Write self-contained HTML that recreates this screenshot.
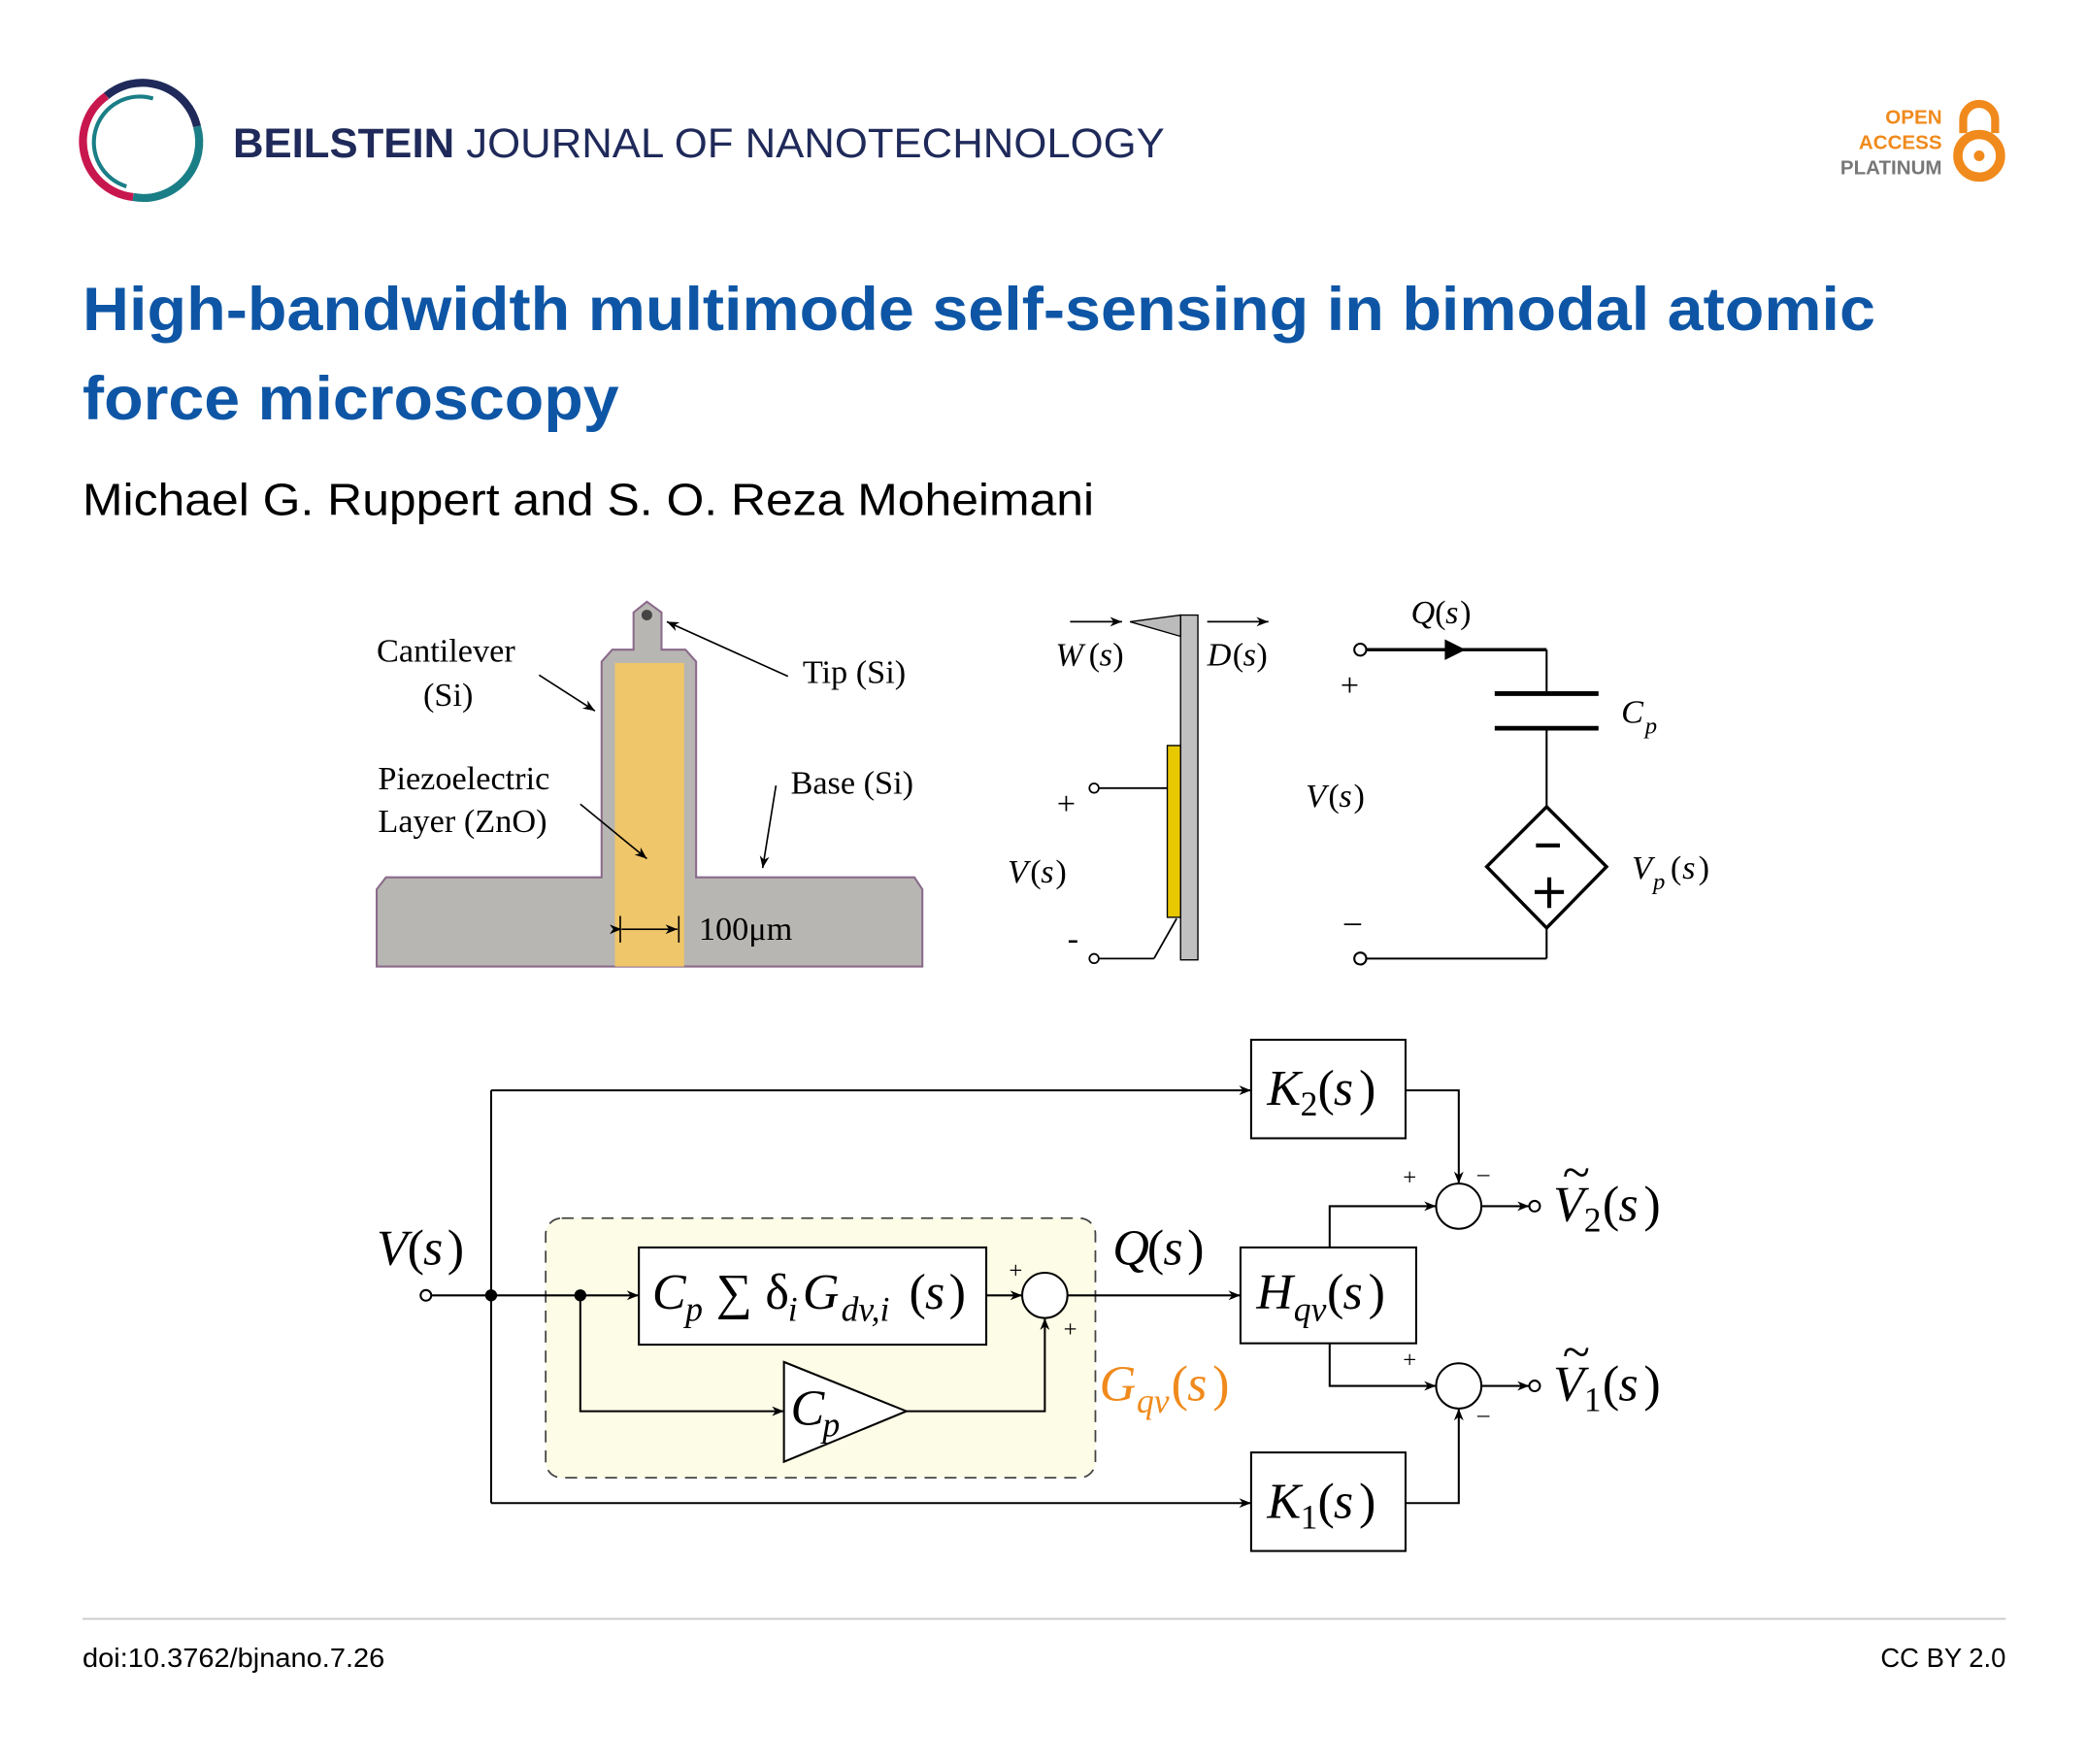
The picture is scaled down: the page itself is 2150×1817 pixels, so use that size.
<!DOCTYPE html>
<html><head><meta charset="utf-8"><style>
html,body{margin:0;padding:0;background:#fff}
svg{display:block}
.s{font-family:"Liberation Serif",serif}
.i{font-family:"Liberation Serif",serif;font-style:italic}
</style></head><body>
<svg width="2150" height="1817" viewBox="0 0 1568 1325" preserveAspectRatio="none" xmlns="http://www.w3.org/2000/svg">
<defs>
<marker id="a" viewBox="0 0 10 10" refX="10" refY="5" markerWidth="9" markerHeight="9" markerUnits="userSpaceOnUse" orient="auto"><path d="M0,1 L10,5 L0,9 L3,5z" fill="#000"/></marker>
</defs>
<!-- logo -->
<path d="M100,148 A42,42 0 0 1 80,72" fill="none" stroke="#c8174f" stroke-width="6"/>
<path d="M80,72 A42,42 0 0 1 148,95" fill="none" stroke="#1f2a5a" stroke-width="6"/>
<path d="M148,95 A42,42 0 0 1 100,148" fill="none" stroke="#1a7e86" stroke-width="6"/>
<path d="M95,140 A34,34 0 0 1 115,74" fill="none" stroke="#1a7e86" stroke-width="3"/>
<text x="175" y="118" font-family="Liberation Sans,sans-serif" font-size="31" fill="#1f2a5a" textLength="700" lengthAdjust="spacingAndGlyphs"><tspan font-weight="bold">BEILSTEIN</tspan> JOURNAL OF NANOTECHNOLOGY</text>
<g font-family="Liberation Sans,sans-serif" font-size="15" font-weight="bold" text-anchor="end">
<text x="1459" y="93" fill="#f08a1c">OPEN</text><text x="1459" y="112" fill="#f08a1c">ACCESS</text><text x="1459" y="131" fill="#777">PLATINUM</text></g>
<path d="M1475,100 V90 A12,12 0 0 1 1499,90 V100" fill="none" stroke="#f08a1c" stroke-width="6"/>
<circle cx="1487" cy="117" r="16" fill="none" stroke="#f08a1c" stroke-width="7"/><circle cx="1487" cy="117" r="4" fill="#f08a1c"/>
<g font-family="Liberation Sans,sans-serif" font-weight="bold" font-size="46" fill="#0e56a5">
<text x="62" y="248" textLength="1347" lengthAdjust="spacingAndGlyphs">High-bandwidth multimode self-sensing in bimodal atomic</text>
<text x="62" y="315" textLength="403" lengthAdjust="spacingAndGlyphs">force microscopy</text></g>
<text x="62" y="387" font-family="Liberation Sans,sans-serif" font-size="34" fill="#000" textLength="760" lengthAdjust="spacingAndGlyphs">Michael G. Ruppert and S. O. Reza Moheimani</text>
<!-- micrograph -->
<path d="M283,726 V668 L290,659 H452 V497 L460,488 H476 V460 L486,452 L497,460 V488 H515 L523,497 V659 H687 L693,668 V726 Z" fill="#b8b6b2" stroke="#8a6a8a" stroke-width="1.5"/>
<rect x="462" y="498" width="52" height="228" fill="#f0c66a"/>
<circle cx="486" cy="462" r="4" fill="#444"/>
<g class="s" font-size="25" fill="#000">
<text x="283" y="497">Cantilever</text><text x="318" y="530">(Si)</text>
<text x="603" y="513">Tip (Si)</text>
<text x="284" y="593">Piezoelectric</text><text x="284" y="625">Layer (ZnO)</text>
<text x="594" y="596">Base (Si)</text>
<text x="525" y="706">100μm</text></g>
<g stroke="#000" stroke-width="1.2" fill="none">
<line x1="405" y1="507" x2="447" y2="534" marker-end="url(#a)"/>
<line x1="592" y1="508" x2="501" y2="467" marker-end="url(#a)"/>
<line x1="436" y1="604" x2="486" y2="645" marker-end="url(#a)"/>
<line x1="583" y1="590" x2="573" y2="652" marker-end="url(#a)"/>
<line x1="467" y1="698" x2="509" y2="698" marker-end="url(#a)" marker-start="url(#a)"/>
<line x1="466" y1="688" x2="466" y2="708"/><line x1="510" y1="688" x2="510" y2="708"/>
</g>
<!-- cantilever schematic -->
<rect x="887" y="462" width="13" height="259" fill="#c0c0c0" stroke="#000"/>
<path d="M887,462 L849,467 L887,478 Z" fill="#bbb" stroke="#000"/>
<rect x="877" y="560" width="10" height="129" fill="#e8c800" stroke="#000"/>
<g stroke="#000" stroke-width="1.3" fill="none">
<line x1="804" y1="467" x2="843" y2="467" marker-end="url(#a)"/>
<line x1="907" y1="467" x2="953" y2="467" marker-end="url(#a)"/>
<circle cx="822" cy="592" r="3.5" fill="#fff"/><line x1="826" y1="592" x2="877" y2="592"/>
<circle cx="822" cy="720" r="3.5" fill="#fff"/><line x1="826" y1="720" x2="867" y2="720"/><line x1="867" y1="720" x2="884" y2="690"/>
</g>
<g class="s" font-size="25">
<text x="793" y="500" class="i">W</text><text x="818" y="500">(</text><text x="826" y="500" class="i">s</text><text x="836" y="500">)</text>
<text x="907" y="500" class="i">D</text><text x="926" y="500">(</text><text x="934" y="500" class="i">s</text><text x="944" y="500">)</text>
<text x="794" y="612">+</text><text x="802" y="713">-</text>
<text x="757" y="663" class="i">V</text><text x="774" y="663">(</text><text x="782" y="663" class="i">s</text><text x="793" y="663">)</text>
</g>
<!-- circuit -->
<g stroke="#000" fill="none">
<circle cx="1022" cy="488" r="4.5" stroke-width="1.5" fill="#fff"/>
<line x1="1027" y1="488" x2="1162" y2="488" stroke-width="2.5"/>
<path d="M1086,481 L1100,488 L1086,495z" fill="#000"/>
<line x1="1162" y1="488" x2="1162" y2="521" stroke-width="1.5"/>
<line x1="1123" y1="521" x2="1201" y2="521" stroke-width="3.5"/>
<line x1="1123" y1="547" x2="1201" y2="547" stroke-width="3.5"/>
<line x1="1162" y1="547" x2="1162" y2="606" stroke-width="1.5"/>
<path d="M1162,606 L1207,651 L1162,697 L1117,651Z" stroke-width="2.5"/>
<line x1="1162" y1="697" x2="1162" y2="720" stroke-width="1.5"/>
<line x1="1027" y1="720" x2="1162" y2="720" stroke-width="1.5"/>
<circle cx="1022" cy="720" r="4.5" stroke-width="1.5" fill="#fff"/>
<line x1="1154" y1="635" x2="1172" y2="635" stroke-width="3"/>
<line x1="1153" y1="670" x2="1175" y2="670" stroke-width="3"/><line x1="1164" y1="659" x2="1164" y2="682" stroke-width="3"/>
</g>
<g class="s" font-size="25">
<text x="1060" y="468" class="i">Q</text><text x="1078" y="468">(</text><text x="1086" y="468" class="i">s</text><text x="1097" y="468">)</text>
<text x="1007" y="523">+</text><text x="1010" y="700">–</text>
<text x="1218" y="543" class="i">C</text><text x="1236" y="551" class="i" font-size="18">p</text>
<text x="981" y="606" class="i">V</text><text x="998" y="606">(</text><text x="1006" y="606" class="i">s</text><text x="1017" y="606">)</text>
<text x="1226" y="660" class="i">V</text><text x="1242" y="668" class="i" font-size="18">p</text><text x="1255" y="660">(</text><text x="1264" y="660" class="i">s</text><text x="1276" y="660">)</text>
</g>
<!-- block diagram -->
<rect x="410" y="915" width="413" height="195" rx="12" fill="#fdfce6" stroke="#444" stroke-width="1.3" stroke-dasharray="9,6"/>
<g stroke="#000" stroke-width="1.5" fill="none">
<rect x="940" y="781" width="116" height="74" fill="#fff"/>
<rect x="940" y="1091" width="116" height="74" fill="#fff"/>
<rect x="932" y="937" width="132" height="72" fill="#fff"/>
<rect x="480" y="937" width="261" height="73" fill="#fff"/>
<path d="M589,1023 L681,1060 L589,1098Z" fill="#fff"/>
<circle cx="785" cy="973" r="17" fill="#fff"/>
<circle cx="1096" cy="906" r="17" fill="#fff"/>
<circle cx="1096" cy="1041" r="17" fill="#fff"/>
<circle cx="320" cy="973" r="4" fill="#fff"/>
<line x1="324" y1="973" x2="480" y2="973" marker-end="url(#a)"/>
<line x1="369" y1="819" x2="369" y2="1129"/>
<line x1="369" y1="819" x2="940" y2="819" marker-end="url(#a)"/>
<line x1="369" y1="1129" x2="940" y2="1129" marker-end="url(#a)"/>
<polyline points="436,973 436,1060 589,1060" marker-end="url(#a)"/>
<polyline points="681,1060 785,1060 785,990" marker-end="url(#a)"/>
<line x1="741" y1="973" x2="768" y2="973" marker-end="url(#a)"/>
<line x1="802" y1="973" x2="932" y2="973" marker-end="url(#a)"/>
<polyline points="999,937 999,906 1079,906" marker-end="url(#a)"/>
<polyline points="999,1009 999,1041 1079,1041" marker-end="url(#a)"/>
<polyline points="1056,819 1096,819 1096,889" marker-end="url(#a)"/>
<polyline points="1056,1129 1096,1129 1096,1058" marker-end="url(#a)"/>
<line x1="1113" y1="906" x2="1149" y2="906" marker-end="url(#a)"/>
<line x1="1113" y1="1041" x2="1149" y2="1041" marker-end="url(#a)"/>
<circle cx="1153" cy="906" r="4" fill="#fff"/>
<circle cx="1153" cy="1041" r="4" fill="#fff"/>
</g>
<circle cx="369" cy="973" r="4.5"/><circle cx="436" cy="973" r="4.5"/>
<g class="s" font-size="38">
<text x="283" y="950" class="i">V</text><text x="306" y="950">(</text><text x="318" y="950" class="i">s</text><text x="336" y="950">)</text>
<text x="836" y="950" class="i">Q</text><text x="862" y="950">(</text><text x="874" y="950" class="i">s</text><text x="892" y="950">)</text>
<text x="952" y="830" class="i">K</text><text x="977" y="838" font-size="26">2</text><text x="990" y="830">(</text><text x="1002" y="830" class="i">s</text><text x="1021" y="830">)</text>
<text x="952" y="1140" class="i">K</text><text x="977" y="1148" font-size="26">1</text><text x="990" y="1140">(</text><text x="1002" y="1140" class="i">s</text><text x="1021" y="1140">)</text>
<text x="944" y="983" class="i">H</text><text x="972" y="992" class="i" font-size="26">qv</text><text x="997" y="983">(</text><text x="1009" y="983" class="i">s</text><text x="1028" y="983">)</text>
<text x="490" y="983" class="i">C</text><text x="515" y="992" class="i" font-size="26">p</text><text x="538" y="983">∑</text><text x="575" y="983">δ</text><text x="592" y="992" class="i" font-size="26">i</text><text x="603" y="983" class="i">G</text><text x="632" y="992" class="i" font-size="26">dv,i</text><text x="683" y="983">(</text><text x="695" y="983" class="i">s</text><text x="713" y="983">)</text>
<text x="594" y="1070" class="i">C</text><text x="618" y="1079" class="i" font-size="26">p</text>
<g fill="#f08a1c"><text x="826" y="1052" class="i">G</text><text x="854" y="1061" class="i" font-size="26">qv</text><text x="880" y="1052">(</text><text x="892" y="1052" class="i">s</text><text x="911" y="1052">)</text></g>
<text x="1167" y="917" class="i">V</text><text x="1174" y="893">~</text><text x="1190" y="925" font-size="26">2</text><text x="1204" y="917">(</text><text x="1216" y="917" class="i">s</text><text x="1235" y="917">)</text>
<text x="1167" y="1052" class="i">V</text><text x="1174" y="1028">~</text><text x="1190" y="1060" font-size="26">1</text><text x="1204" y="1052">(</text><text x="1216" y="1052" class="i">s</text><text x="1235" y="1052">)</text>
</g>
<g class="s" font-size="18">
<text x="758" y="960">+</text><text x="799" y="1004">+</text>
<text x="1054" y="890">+</text><text x="1110" y="887">–</text>
<text x="1054" y="1027">+</text><text x="1110" y="1068">–</text>
</g>
<line x1="62" y1="1216" x2="1507" y2="1216" stroke="#ccc" stroke-width="1.5"/>
<text x="62" y="1252" font-family="Liberation Sans,sans-serif" font-size="20" textLength="227" lengthAdjust="spacingAndGlyphs">doi:10.3762/bjnano.7.26</text>
<text x="1507" y="1252" font-family="Liberation Sans,sans-serif" font-size="20" text-anchor="end">CC BY 2.0</text>
</svg>
</body></html>
